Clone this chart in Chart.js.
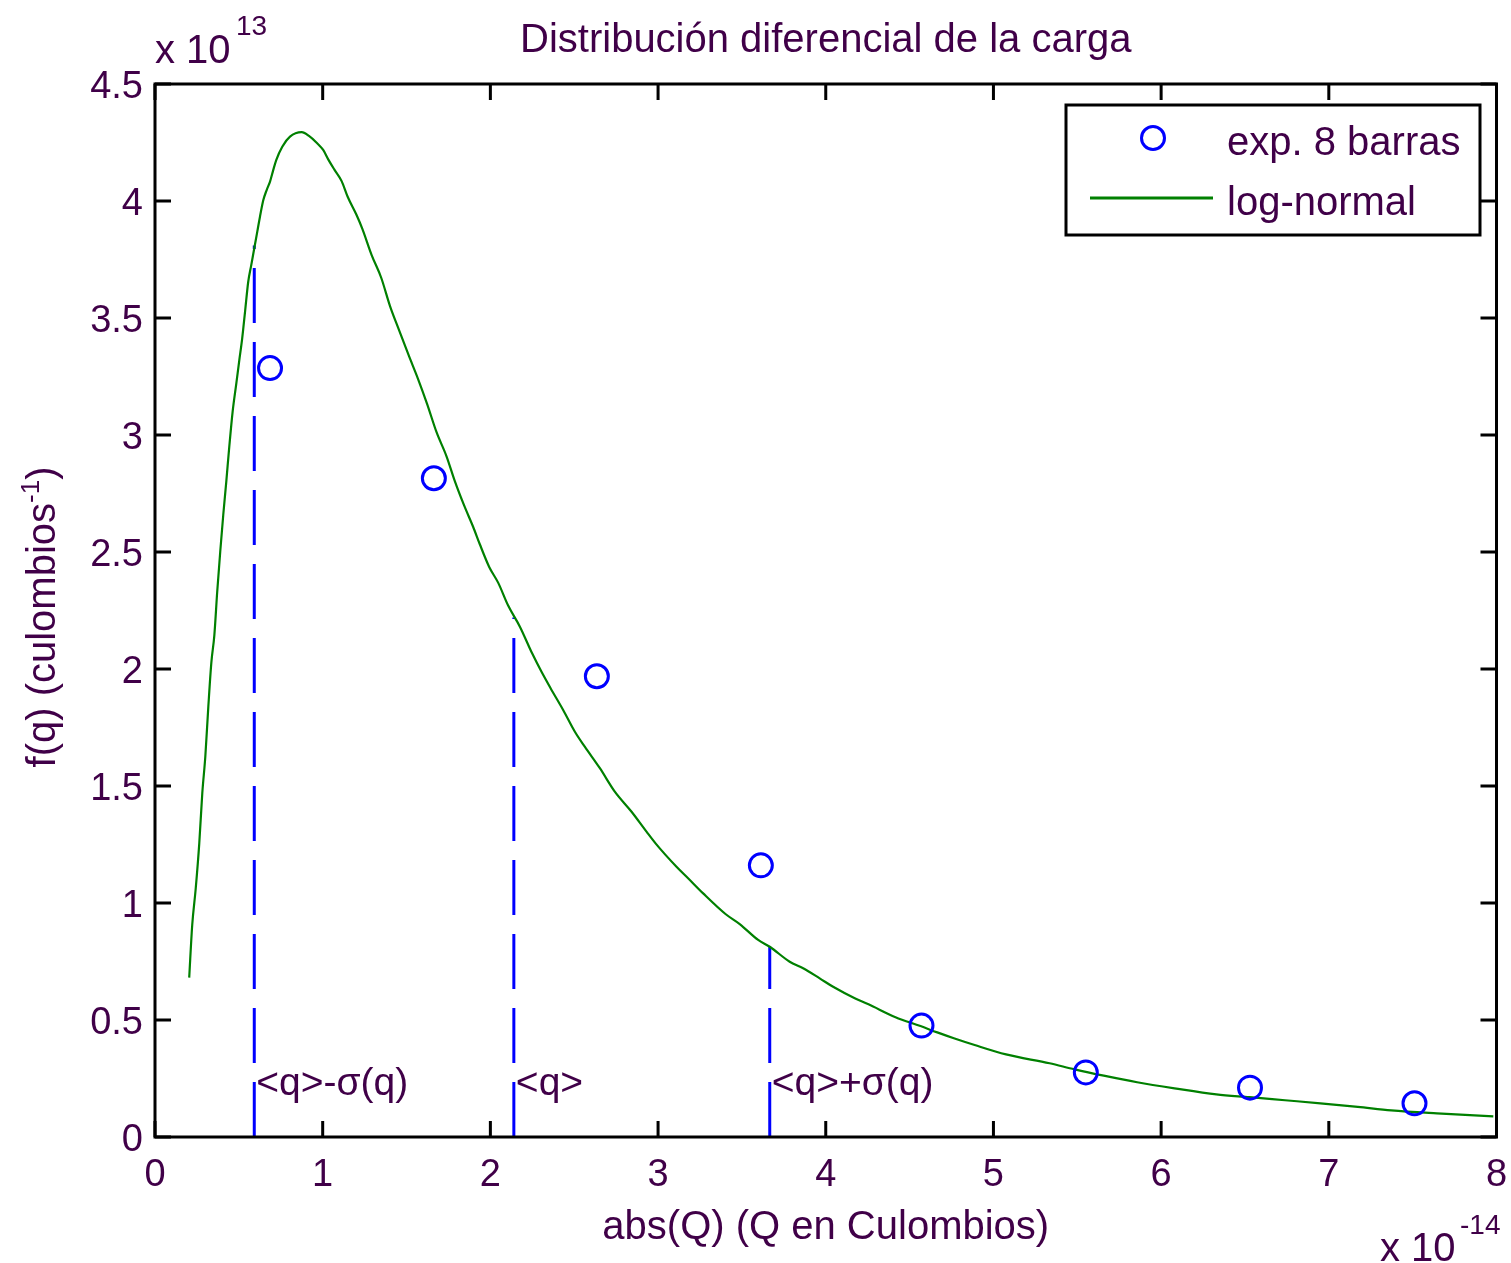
<!DOCTYPE html>
<html>
<head>
<meta charset="utf-8">
<script src="https://cdn.jsdelivr.net/npm/chart.js@4.4.1/dist/chart.umd.min.js"></script>
<style>
  html, body { margin:0; padding:0; background:#fff; }
  canvas { display:block; }
</style>
</head>
<body>
<canvas id="c" width="1511" height="1263"></canvas>
<script>
// puntos experimentales (x en 1e-14 C, y en 1e13 C^-1)
const expX = [0.686, 1.663, 2.635, 3.613, 4.571, 5.551, 6.530, 7.511];
const expY = [3.286, 2.815, 1.969, 1.161, 0.476, 0.276, 0.211, 0.144];

// curva log-normal
const fitX = [0.204, 0.222, 0.243, 0.264, 0.282, 0.300, 0.318, 0.336, 0.354, 0.371, 0.389, 0.407, 0.425, 0.443,
  0.463, 0.485, 0.503, 0.520, 0.538, 0.556, 0.574, 0.592, 0.610, 0.626, 0.646, 0.666, 0.686, 0.705, 0.723, 0.759,
  0.805, 0.875, 0.918, 0.964, 1.003, 1.033, 1.069, 1.113, 1.149, 1.202, 1.236, 1.292, 1.349, 1.401, 1.456, 1.512,
  1.570, 1.623, 1.679, 1.739, 1.788, 1.844, 1.897, 1.937, 1.993, 2.047, 2.106, 2.176, 2.249, 2.305, 2.359, 2.434,
  2.504, 2.563, 2.653, 2.742, 2.842, 2.931, 2.985, 3.110, 3.179, 3.269, 3.402, 3.487, 3.597, 3.666, 3.785, 3.865,
  3.964, 4.044, 4.173, 4.255, 4.416, 4.565, 4.665, 4.764, 4.888, 5.075, 5.335, 5.484, 5.658, 5.857, 6.080, 6.329,
  6.528, 6.739, 6.950, 7.173, 7.372, 7.645, 7.981];
const fitY = [0.681, 0.906, 1.063, 1.255, 1.469, 1.625, 1.839, 2.027, 2.145, 2.330, 2.501, 2.658, 2.800, 2.950,
  3.100, 3.221, 3.321, 3.413, 3.534, 3.655, 3.726, 3.798, 3.869, 3.933, 4.004, 4.047, 4.083, 4.132, 4.175, 4.232,
  4.275, 4.294, 4.278, 4.249, 4.218, 4.178, 4.135, 4.085, 4.018, 3.940, 3.882, 3.769, 3.672, 3.552, 3.447, 3.342,
  3.237, 3.132, 3.012, 2.908, 2.803, 2.698, 2.608, 2.533, 2.436, 2.368, 2.271, 2.181, 2.067, 1.988, 1.918, 1.825,
  1.732, 1.668, 1.576, 1.476, 1.390, 1.305, 1.255, 1.155, 1.106, 1.041, 0.953, 0.910, 0.842, 0.813, 0.749, 0.721,
  0.678, 0.642, 0.593, 0.567, 0.512, 0.474, 0.447, 0.422, 0.393, 0.353, 0.315, 0.289, 0.262, 0.234, 0.208, 0.182,
  0.170, 0.157, 0.144, 0.129, 0.114, 0.101, 0.088];

// <q>-sigma, <q>, <q>+sigma
const statX = [0.592, 2.140, 3.666];
const statTop = [3.81, 2.22, 0.813];
const statLabels = ['<q>-σ(q)', '<q>', '<q>+σ(q)'];

const xTicks = [0, 1, 2, 3, 4, 5, 6, 7, 8];
const yTicks = [0, 0.5, 1, 1.5, 2, 2.5, 3, 3.5, 4, 4.5];
const yTickLabels = ['0', '0.5', '1', '1.5', '2', '2.5', '3', '3.5', '4', '4.5'];

const FONT = '"Liberation Sans", Arial, Helvetica, sans-serif';
const TXT = '#400048';
const BLUE = '#0000ff', GREEN = '#008000';

const datasets = [
  { label: 'exp. 8 barras', data: expX.map((x, i) => ({ x, y: expY[i] })), showLine: false,
    pointStyle: 'circle', pointRadius: 11.5, pointBorderWidth: 3, pointBorderColor: BLUE,
    pointBackgroundColor: 'rgba(0,0,0,0)', pointHoverRadius: 11.5 },
  { label: 'log-normal', data: fitX.map((x, i) => ({ x, y: fitY[i] })), showLine: true,
    borderColor: GREEN, borderWidth: 2.2, pointRadius: 0, cubicInterpolationMode: 'monotone' }
];
statX.forEach((x, i) => datasets.push({
  label: statLabels[i], data: [{ x, y: 0 }, { x, y: statTop[i] }], showLine: true,
  borderColor: BLUE, borderWidth: 3, borderDash: [55, 19], pointRadius: 0, tension: 0
}));

const matlabAxes = {
  id: 'matlabAxes',
  afterDraw(chart) {
    const { ctx, chartArea: a, scales: { x, y } } = chart;
    ctx.save();
    // caja y ticks hacia dentro
    ctx.strokeStyle = '#000';
    ctx.lineWidth = 3;
    ctx.strokeRect(a.left, a.top, a.right - a.left, a.bottom - a.top);
    ctx.beginPath();
    xTicks.forEach(v => {
      const px = x.getPixelForValue(v);
      ctx.moveTo(px, a.bottom); ctx.lineTo(px, a.bottom - 16);
      ctx.moveTo(px, a.top); ctx.lineTo(px, a.top + 16);
    });
    yTicks.forEach(v => {
      const py = y.getPixelForValue(v);
      ctx.moveTo(a.left, py); ctx.lineTo(a.left + 16, py);
      ctx.moveTo(a.right, py); ctx.lineTo(a.right - 16, py);
    });
    ctx.stroke();

    ctx.fillStyle = TXT;
    ctx.font = '38px ' + FONT;
    ctx.textBaseline = 'alphabetic';
    ctx.textAlign = 'center';
    xTicks.forEach(v => ctx.fillText(String(v), x.getPixelForValue(v), a.bottom + 49));
    ctx.textAlign = 'right';
    yTicks.forEach((v, i) => ctx.fillText(yTickLabels[i], a.left - 12, y.getPixelForValue(v) + 14));

    // titulo y etiquetas
    ctx.font = '40px ' + FONT;
    ctx.textAlign = 'center';
    ctx.fillText('Distribución diferencial de la carga', (a.left + a.right) / 2, 52);
    ctx.fillText('abs(Q) (Q en Culombios)', (a.left + a.right) / 2, a.bottom + 102);

    // etiqueta eje y con superindice
    ctx.save();
    ctx.translate(55, 617);
    ctx.rotate(-Math.PI / 2);
    ctx.textAlign = 'left';
    const p1 = 'f(q) (culombios', sup = '-1', p2 = ')';
    ctx.font = '40px ' + FONT;
    const w1 = ctx.measureText(p1).width, w3 = ctx.measureText(p2).width;
    ctx.font = '26px ' + FONT;
    const w2 = ctx.measureText(sup).width;
    let sx = -(w1 + w2 + w3) / 2;
    ctx.font = '40px ' + FONT;
    ctx.fillText(p1, sx, 0); sx += w1;
    ctx.font = '26px ' + FONT;
    ctx.fillText(sup, sx, -16); sx += w2;
    ctx.font = '40px ' + FONT;
    ctx.fillText(p2, sx, 0);
    ctx.restore();

    // factores de escala
    ctx.textAlign = 'left';
    ctx.font = '40px ' + FONT;
    ctx.fillText('x 10', a.left, 63);
    ctx.fillText('x 10', 1380, 1261);
    ctx.font = '28px ' + FONT;
    ctx.fillText('13', 236, 35);
    ctx.fillText('-14', 1460, 1234);

    // etiquetas de <q> y sigma
    ctx.font = '39px ' + FONT;
    statX.forEach((v, i) => ctx.fillText(statLabels[i], x.getPixelForValue(v) + 2, a.bottom - 42));

    // leyenda
    ctx.fillStyle = '#fff';
    ctx.fillRect(1066, 105, 414, 130);
    ctx.strokeStyle = '#000';
    ctx.lineWidth = 3;
    ctx.strokeRect(1066, 105, 414, 130);
    ctx.strokeStyle = BLUE;
    ctx.beginPath(); ctx.arc(1153, 138, 11.5, 0, Math.PI * 2); ctx.stroke();
    ctx.strokeStyle = GREEN;
    ctx.lineWidth = 3;
    ctx.beginPath(); ctx.moveTo(1090, 198); ctx.lineTo(1213, 198); ctx.stroke();
    ctx.fillStyle = TXT;
    ctx.font = '40px ' + FONT;
    ctx.fillText('exp. 8 barras', 1227, 155);
    ctx.fillText('log-normal', 1227, 215);
    ctx.restore();
  }
};

new Chart(document.getElementById('c'), {
  type: 'scatter',
  data: { datasets },
  options: {
    responsive: false,
    animation: false,
    devicePixelRatio: 1,
    layout: { padding: { left: 155, top: 84, right: 14, bottom: 126 } },
    plugins: { legend: { display: false }, tooltip: { enabled: false }, title: { display: false } },
    scales: {
      x: { type: 'linear', min: 0, max: 8, display: false },
      y: { type: 'linear', min: 0, max: 4.5, display: false }
    }
  },
  plugins: [matlabAxes]
});
</script>
</body>
</html>
